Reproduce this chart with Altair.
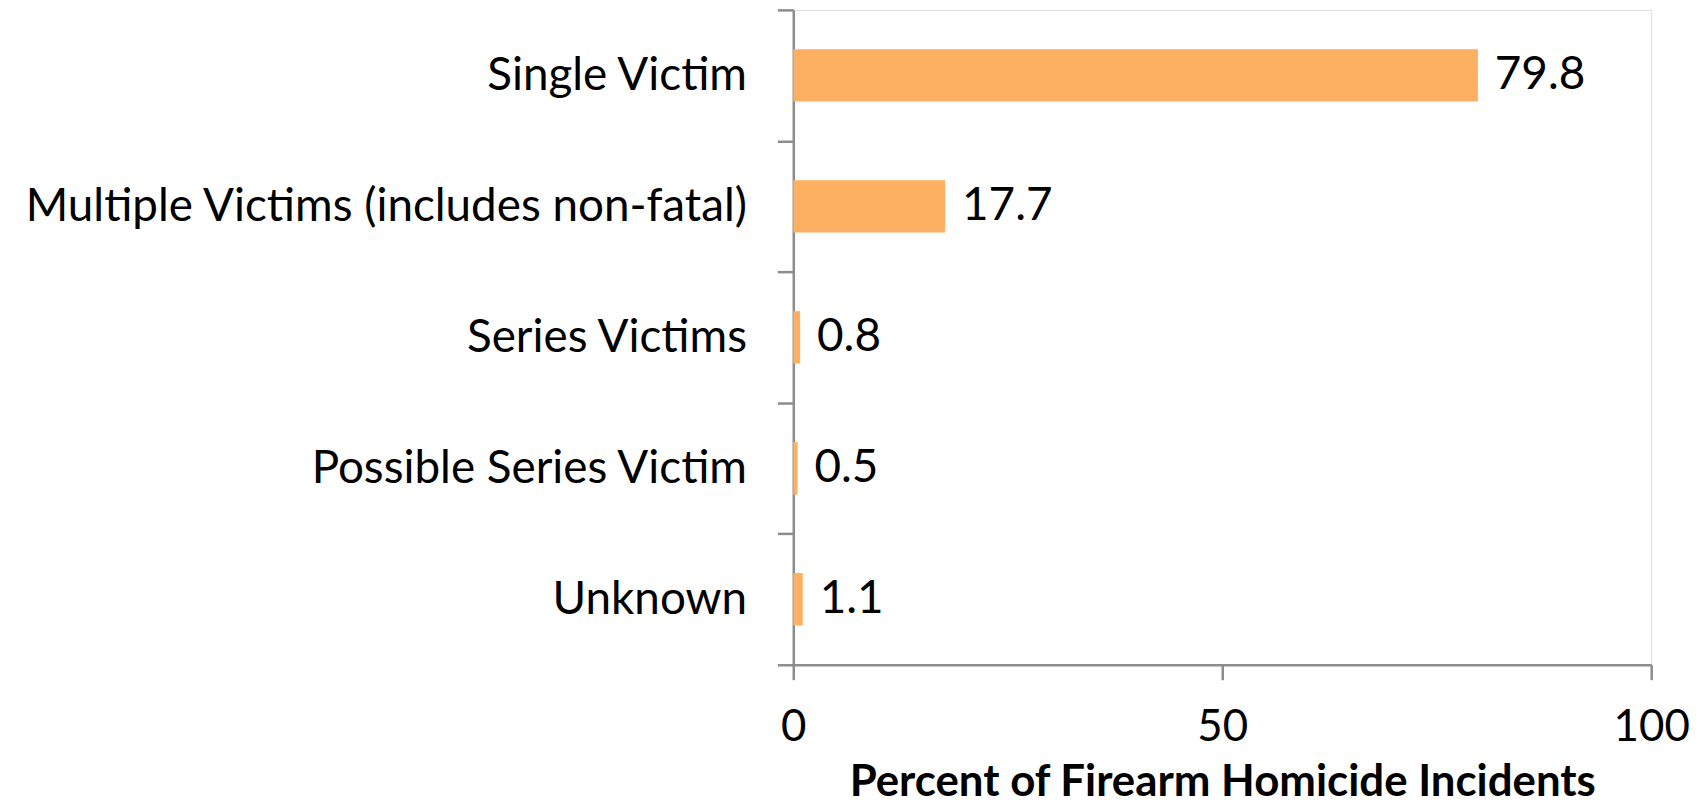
import altair as alt
import pandas as pd

categories = ["Single Victim", "Multiple Victims (includes non-fatal)", "Series Victims",
              "Possible Series Victim", "Unknown"]
values = [79.8, 17.7, 0.8, 0.5, 1.1]
labels = ["79.8", "17.7", "0.8", "0.5", "1.1"]
x_ticks = [0, 50, 100]

df = pd.DataFrame({"cat": categories, "val": values, "lab": labels})

FONT = "Lato"
GREY = "#8C8C8C"
BAR = "#FDAF62"

y_enc = alt.Y("cat:N", sort=categories, title=None,
              scale=alt.Scale(paddingInner=0, paddingOuter=0),
              axis=alt.Axis(tickBand="extent", tickSize=16, tickColor=GREY, tickWidth=2.5,
                            domainColor=GREY, domainWidth=2.5, labelPadding=31,
                            labelFont=FONT, labelFontSize=46, labelColor="#000000",
                            labelLimit=900))
x_enc = alt.X("val:Q", title="Percent of Firearm Homicide Incidents",
              scale=alt.Scale(domain=[0, 100], nice=False),
              axis=alt.Axis(values=x_ticks, tickSize=15, tickColor=GREY, tickWidth=2.5,
                            domainColor=GREY, domainWidth=2.5, grid=False,
                            labelFont=FONT, labelFontSize=44, labelColor="#000000",
                            labelBaseline="alphabetic", labelPadding=61,
                            labelFlush=False,
                            titleFont=FONT, titleFontSize=44, titleFontWeight="bold",
                            titleColor="#000000", titleBaseline="alphabetic",
                            titleY=131, titleAnchor="middle"))

bars = alt.Chart(df).mark_bar(color=BAR, height=alt.RelativeBandSize(0.4)).encode(y=y_enc, x=x_enc)
text = alt.Chart(df).mark_text(align="left", baseline="middle", dx=17, font=FONT,
                               fontSize=46, color="#000000").encode(
    y=alt.Y("cat:N", sort=categories), x="val:Q", text="lab:N")

chart = (bars + text).properties(
    width=862, height=658,
    autosize=alt.AutoSizeParams(type="none"),
    padding={"left": 789, "top": 0, "right": 45, "bottom": 142},
).configure_view(stroke=None).configure(background="white")

chart.save("out.html", embed_options={"renderer": "svg", "actions": False})
